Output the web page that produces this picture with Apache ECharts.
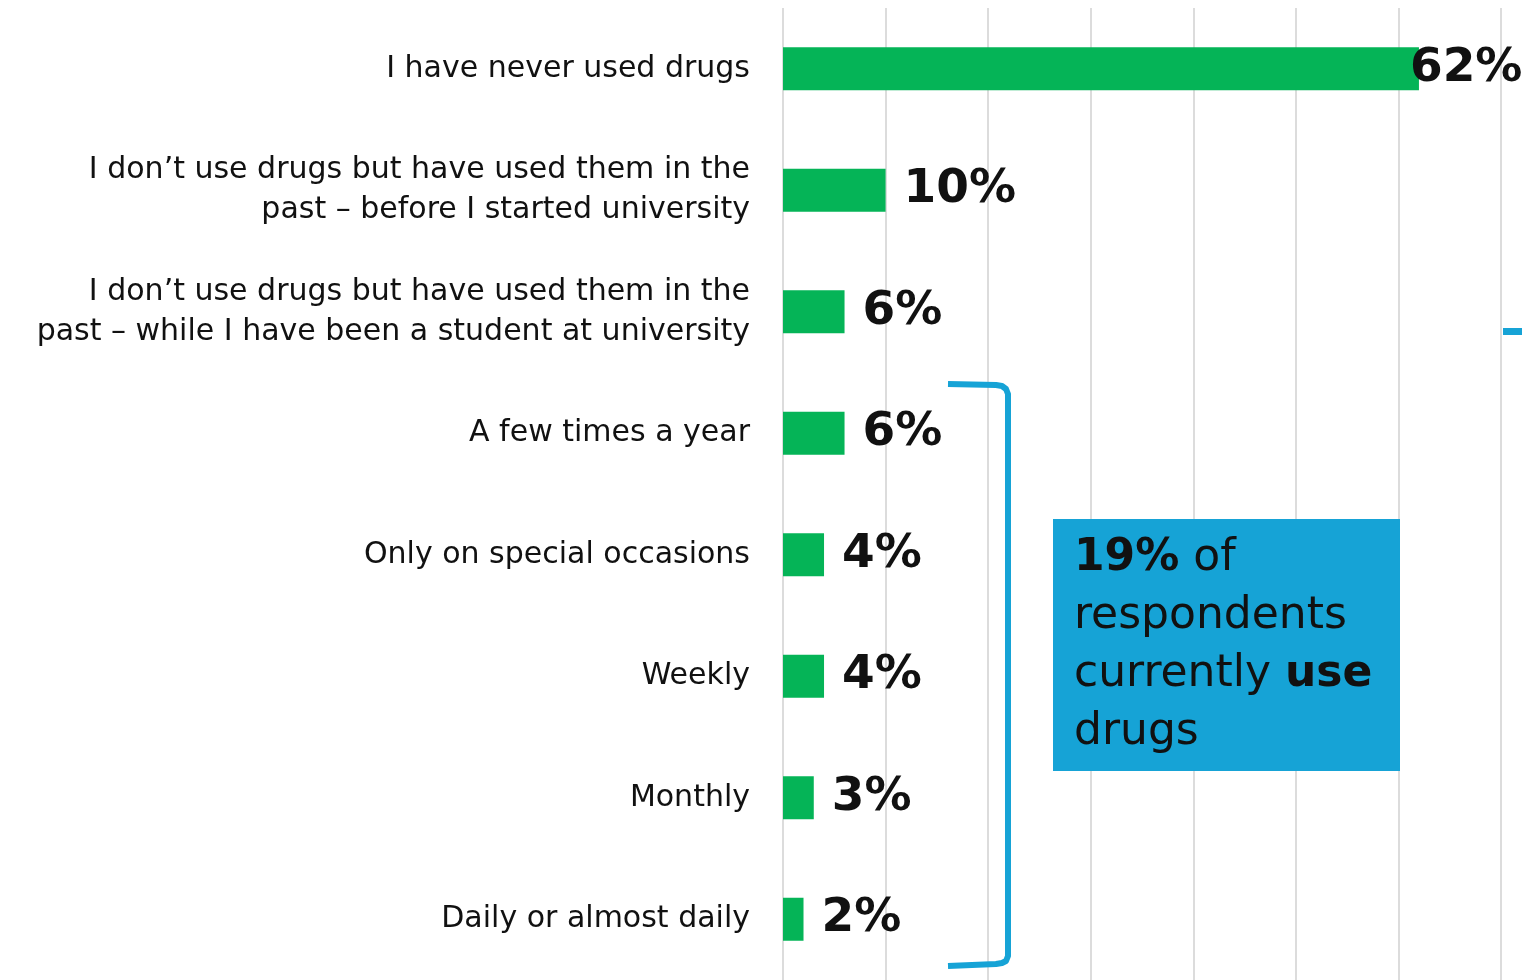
<!DOCTYPE html>
<html>
<head>
<meta charset="utf-8">
<script src="https://cdn.jsdelivr.net/npm/echarts@6/dist/echarts.min.js"></script>
<style>
  html, body { margin: 0; padding: 0; background: #fff; }
  #chart { width: 1522px; height: 980px; }
</style>
</head>
<body>
<div id="chart"></div>
<script>
// Drug use among respondents (% of all respondents)
const categories = [
  'I have never used drugs',
  'I don\u2019t use drugs but have used them in the\npast \u2013 before I started university',
  'I don\u2019t use drugs but have used them in the\npast \u2013 while I have been a student at university',
  'A few times a year',
  'Only on special occasions',
  'Weekly',
  'Monthly',
  'Daily or almost daily'
];
const values = [62, 10, 6, 6, 4, 4, 3, 2];
const xTicks = [0, 10, 20, 30, 40, 50, 60, 70];

const GREEN = '#05b457';
const BLUE = '#16a3d6';
const INK = '#111111';
const FONT = 'DejaVu Sans';

const chart = echarts.init(document.getElementById('chart'));

chart.setOption({
  animation: false,
  backgroundColor: '#ffffff',
  grid: { left: 783, right: 21, top: 8, height: 976, containLabel: false },
  xAxis: {
    type: 'value',
    min: xTicks[0],
    max: xTicks[xTicks.length - 1],
    interval: xTicks[1] - xTicks[0],
    axisLabel: { show: false },
    axisLine: { show: false },
    axisTick: { show: false },
    splitLine: { show: true, lineStyle: { color: '#dcdcdc', width: 2 } }
  },
  yAxis: {
    type: 'category',
    data: categories,
    inverse: true,
    axisLine: { show: false },
    axisTick: { show: false },
    axisLabel: {
      color: INK,
      fontFamily: FONT,
      fontSize: 30,
      lineHeight: 40,
      margin: 33,
      align: 'right'
    }
  },
  series: [{
    type: 'bar',
    barWidth: 43,
    data: values.map((v, i) => ({
      value: v,
      label: i === 0 ? { offset: [-27, 0] } : undefined
    })),
    itemStyle: { color: GREEN },
    label: {
      show: true,
      position: 'right',
      distance: 18,
      formatter: '{c}%',
      color: INK,
      fontFamily: FONT,
      fontWeight: 'bold',
      fontSize: 47
    }
  }],
  graphic: [
    // bracket grouping current users
    {
      type: 'polyline',
      z: 10,
      shape: {
        points: [
          [948, 384], [996, 385], [1002, 386], [1006, 389], [1008, 394],
          [1008, 956], [1006, 961], [1002, 963], [996, 964], [948, 966]
        ]
      },
      style: { fill: null, stroke: BLUE, lineWidth: 6, lineJoin: 'round' }
    },
    // small tick at right edge
    {
      type: 'rect',
      z: 10,
      shape: { x: 1503, y: 328, width: 19, height: 7 },
      style: { fill: BLUE }
    },
    // callout box
    {
      type: 'rect',
      z: 10,
      shape: { x: 1053, y: 519, width: 347, height: 252 },
      style: { fill: BLUE }
    },
    {
      type: 'text',
      z: 11,
      x: 1074,
      y: 530,
      style: {
        text: '{b|19%}{n| of}\n{n|respondents}\n{n|currently }{b|use}\n{n|drugs}',
        fill: INK,
        rich: {
          b: { fontFamily: FONT, fontWeight: 'bold', fontSize: 44, lineHeight: 58, fill: INK },
          n: { fontFamily: FONT, fontWeight: 'normal', fontSize: 44, lineHeight: 58, fill: INK }
        }
      }
    }
  ]
});
</script>
</body>
</html>
